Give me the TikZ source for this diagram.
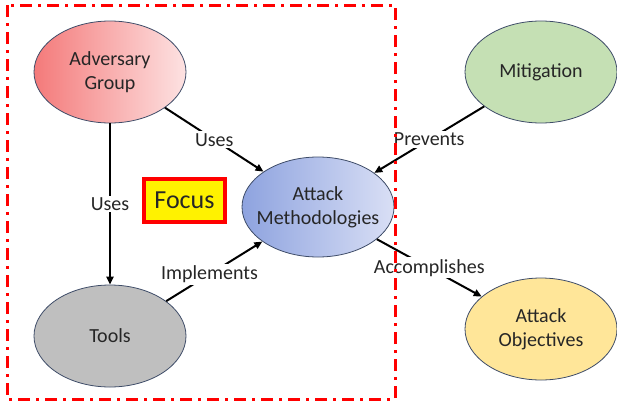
\documentclass[tikz,border=0pt]{standalone}
\usepackage{fontspec}
\setmainfont{Carlito}
\usetikzlibrary{shapes.geometric,arrows.meta}
\definecolor{txt}{HTML}{262626}
\definecolor{edgeline}{HTML}{3E4C68}
\definecolor{advL}{HTML}{F47A7A}
\definecolor{advR}{HTML}{FDE2E2}
\definecolor{attL}{HTML}{8EA3DF}
\definecolor{attR}{HTML}{D9DFF5}
\definecolor{mitG}{HTML}{C5E0B4}
\definecolor{objY}{HTML}{FFE699}
\definecolor{toolG}{HTML}{BFBFBF}
\definecolor{focusRed}{HTML}{FF0000}
\tikzset{
  ell/.style={ellipse, draw=edgeline, line width=0.8pt, minimum width=152pt, minimum height=102pt,
    inner sep=0pt, align=center, text=txt, font=\fontsize{20}{24}\selectfont},
  arr/.style={-{Triangle[length=8pt,width=7pt]}, line width=2pt, black},
  lbl/.style={fill=white, inner sep=2pt, text=txt, font=\fontsize{20}{24}\selectfont},
}
\begin{document}
\begin{tikzpicture}[x=1pt,y=-1pt]
\useasboundingbox (0,0) rectangle (617,407);
\node[ell, left color=advL, right color=advR] (adv) at (110,72) {Adversary\\Group};
\node[ell, fill=toolG] (tools) at (110,336) {Tools};
\node[ell, fill=mitG] (mit) at (541,72) {Mitigation};
\node[ell, fill=objY] (obj) at (541,329) {Attack\\Objectives};
\node[ell, minimum height=100pt, inner xsep=-30pt, left color=attL, right color=attR] (att) at (318,207) {Attack\\Methodologies};
\node[draw=focusRed, fill=yellow, line width=3.5pt, minimum width=81pt, minimum height=43pt, inner sep=0pt,
  text=txt, font=\fontsize{26}{30}\selectfont] (focus) at (184.5,200.5) {Focus};
\draw[arr] (adv) -- node[lbl] {Uses} (att);
\draw[arr] (adv) -- node[lbl] {Uses} (tools);
\draw[arr] (tools) -- node[lbl, pos=0.45] {Implements} (att);
\draw[arr] (mit) -- node[lbl] {Prevents} (att);
\draw[arr] (att) -- node[lbl] {Accomplishes} (obj);
\coordinate (bTL) at (7,5);
\coordinate (bBR) at (395,399);
\draw[focusRed, line width=3pt, dash pattern=on 12pt off 6pt on 3pt off 6pt] (bTL) rectangle (bBR);
\end{tikzpicture}
\end{document}
